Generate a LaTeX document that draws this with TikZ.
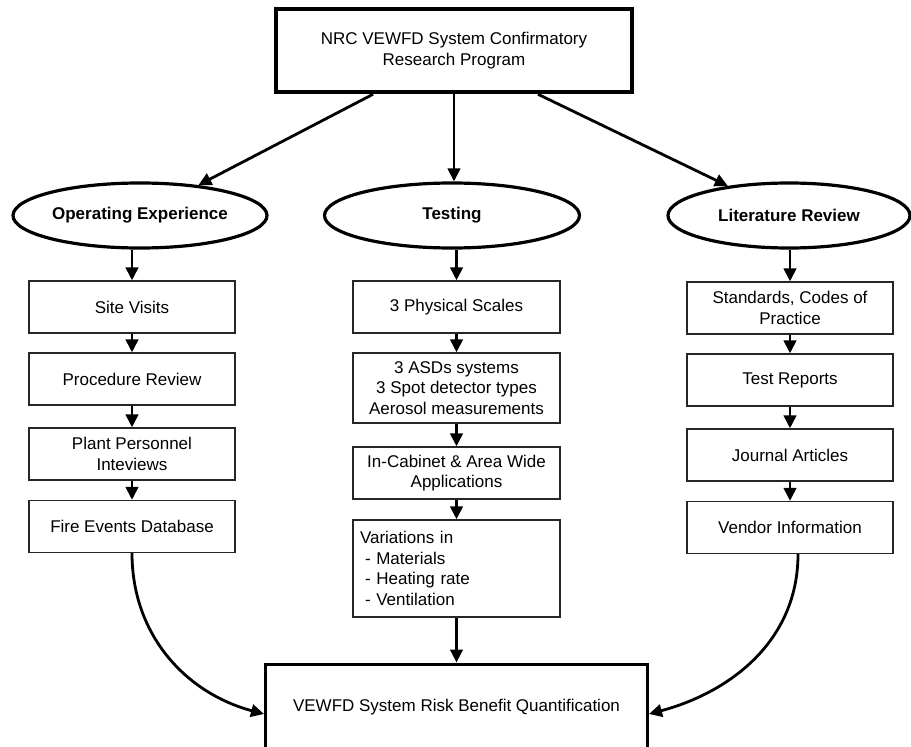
\documentclass[tikz,border=0pt]{standalone}
\usepackage{fontspec}
\setmainfont{Liberation Sans}
\usetikzlibrary{arrows.meta,shapes.geometric}
\begin{document}
\begin{tikzpicture}[x=1pt,y=-1pt,
 font=\fontsize{17}{20.5}\selectfont,
 box/.style={draw=black!85,line width=1.3pt,minimum width=206pt,minimum height=52pt,align=center,inner sep=2pt},
 oval/.style={ellipse,draw,line width=3.2pt,minimum height=65pt,font=\fontsize{17}{20.5}\selectfont\bfseries,inner sep=0pt},
 arr/.style={line width=2.8pt,-{Triangle[length=13pt,width=12.5pt]}},
]
\useasboundingbox (0,0) rectangle (911,747);
\clip (0,0) rectangle (911,747);

\node[draw,line width=4.5pt,minimum width=356pt,minimum height=83pt,align=center,inner sep=0pt] (top) at (454,50.5) {NRC VEWFD System Confirmatory\\Research Program};

\node[oval,minimum width=254pt] (oe) at (140,215.5) {Operating Experience};
\node[oval,minimum width=255pt] (test) at (452,215.5) {Testing};
\node[oval,minimum width=242pt] (lr) at (789,215.5) {Literature Review};

% left column
\node[box] (sv) at (132,307) {Site Visits};
\node[box] (pr) at (132,379) {Procedure Review};
\node[box] (pp) at (132,454) {Plant Personnel\\Inteviews};
\node[box] (fe) at (132,526.5) {Fire Events Database};

% middle column
\node[box,minimum width=207pt] (ps) at (456.5,307) {3 Physical Scales};
\node[box,minimum width=207pt,minimum height=70pt] (asd) at (456.5,388) {3 ASDs systems\\3 Spot detector types\\Aerosol measurements};
\node[box,minimum width=207pt] (cab) at (456.5,473) {In-Cabinet \& Area Wide\\Applications};
\node[box,minimum height=97pt,text width=193pt,inner xsep=7pt,align=left] (var) at (456.5,568.5) {Variations in\\\hspace{5pt}- Materials\\\hspace{5pt}- Heating rate\\\hspace{5pt}- Ventilation};

% right column
\node[box] (std) at (790,308) {Standards, Codes of\\Practice};
\node[box] (tr) at (790,380) {Test Reports};
\node[box] (ja) at (790,455) {Journal Articles};
\node[box] (vi) at (790,527.5) {Vendor Information};

% bottom
\node[draw,line width=3pt,minimum width=382pt,minimum height=86pt,inner sep=0pt] (bot) at (456.5,707) {VEWFD System Risk Benefit Quantification};

% arrows from top
\draw[arr] ([xshift=-81pt]top.south) -- (oe);
\draw[arr] (top.south) -- (top.south |- test.north);
\draw[arr] ([xshift=84pt]top.south) -- (lr);

% columns
\draw[arr] (sv.north |- oe.south) -- (sv.north);
\draw[arr] (sv) -- (pr);
\draw[arr] (pr) -- (pp);
\draw[arr] (pp) -- (fe);

\draw[arr] (ps.north |- test.south) -- (ps.north);
\draw[arr] (ps) -- (asd);
\draw[arr] (asd) -- (cab);
\draw[arr] (cab) -- (var);
\draw[arr] (var) -- (bot);

\draw[arr] (std.north |- lr.south) -- (std.north);
\draw[arr] (std) -- (tr);
\draw[arr] (tr) -- (ja);
\draw[arr] (ja) -- (vi);

% curves
\draw[arr] (fe.south) to[out=-90,in=165] ([yshift=-7pt]bot.west);
\draw[arr] ([xshift=8pt]vi.south) to[out=-90,in=15] ([yshift=-7pt]bot.east);
\end{tikzpicture}
\end{document}
